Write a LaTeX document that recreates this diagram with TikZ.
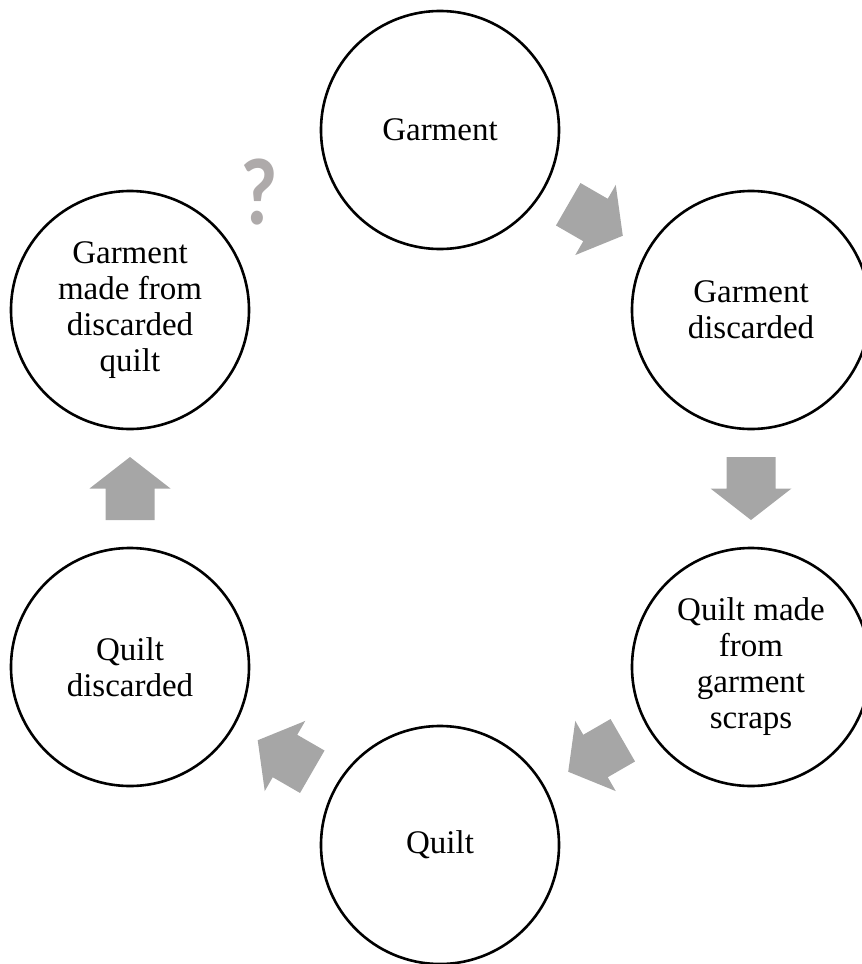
\documentclass[tikz,border=0pt]{standalone}
\usepackage{fontspec}
\setmainfont{Liberation Serif}
\newfontfamily\qfont{Carlito}
\usetikzlibrary{calc}
\definecolor{arrowgray}{HTML}{A6A6A6}
\definecolor{qgray}{HTML}{AEAAAA}
\tikzset{
  stage/.style={circle, draw=black, line width=2.6pt, minimum size=238pt,
    inner sep=0pt, align=center, font=\fontsize{33}{36}\selectfont},
  % block arrow pointing along +x, centred on the origin
  blockarrow/.pic={
    \fill[arrowgray] (-31.5,-24.5) -- (0,-24.5) -- (0,-40.5) -- (31.5,0)
      -- (0,40.5) -- (0,24.5) -- (-31.5,24.5) -- cycle;
  }
}
\begin{document}
\begin{tikzpicture}[x=1pt, y=-1pt]
  \useasboundingbox (0,0) rectangle (862,964);
  \clip (0,0) rectangle (862,964);

  % the six stages of the cycle
  \node[stage] (garment) at (440,130) {Garment};
  \node[stage] (gdisc)   at (751,310) {Garment\\discarded};
  \node[stage] (qmade)   at (751,667) {Quilt made\\from\\garment\\scraps};
  \node[stage] (quilt)   at (440,845) {Quilt};
  \node[stage] (qdisc)   at (130,667) {Quilt\\discarded};
  \node[stage] (gmade)   at (130,310) {Garment\\made from\\discarded\\quilt};

  % arrows between consecutive stages
  \pic[rotate=-30]  (a1) at ($(garment)!0.5!(gdisc)$) {blockarrow};
  \pic[rotate=-90]  (a2) at ($(gdisc)!0.5!(qmade)$)   {blockarrow};
  \pic[rotate=-150] (a3) at ($(qmade)!0.5!(quilt)$)   {blockarrow};
  \pic[rotate=150]  (a4) at ($(quilt)!0.5!(qdisc)$)   {blockarrow};
  \pic[rotate=90]   (a5) at ($(qdisc)!0.5!(gmade)$)   {blockarrow};

  % open link back to the start
  \node[text=qgray, inner sep=0pt, xscale=0.85,
    font=\qfont\bfseries\fontsize{95}{95}\selectfont]
    (qmark) at (259,192) {?};
\end{tikzpicture}
\end{document}
